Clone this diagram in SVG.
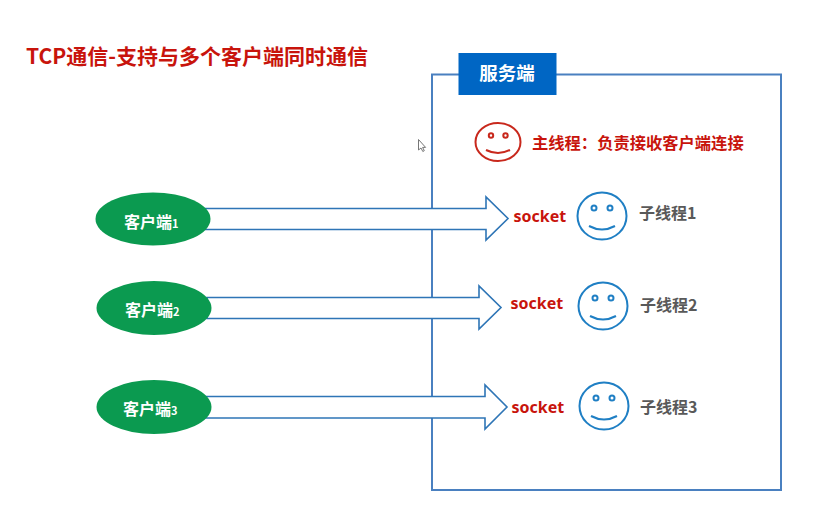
<svg xmlns="http://www.w3.org/2000/svg" width="840" height="507" viewBox="0 0 840 507">
<style>
text{font-family:"Noto Sans CJK SC","Liberation Sans",sans-serif;font-weight:700}
.client{fill:#0b9a50}
.ct{fill:#fff;font-size:16px}
.ctn{font-size:11px}
.arrow{fill:#fff;stroke:#2e75b6;stroke-width:1.6}
.sock{fill:#c8140c;font-size:16px;font-family:"Noto Sans","Liberation Sans",sans-serif}
.sub{fill:#595959;font-size:16px}
.face{fill:none;stroke-width:2}
.blue{stroke:#1f7fc4}
.red{stroke:#c8281c}
</style>
<rect width="840" height="507" fill="#fff"/>
<g id="title"><text x="26" y="64" font-size="21" fill="#c8140c">TCP通信-支持与多个客户端同时通信</text></g>
<g id="server">
<rect x="432" y="74.500" width="349" height="415.500" fill="#fff" stroke="#4a80c0" stroke-width="2"/>
<rect x="458.500" y="53" width="98" height="42" fill="#0066c4"/>
<text x="507" y="80" font-size="18.500" fill="#fff" text-anchor="middle">服务端</text>
</g>
<g id="cursor"><path d="M418.500 139.500v10.500l2.500-2 1.800 3.500 1.500-.8-1.700-3.300h3z" fill="#fff" stroke="#777" stroke-width="1"/></g>
<g id="connectors">
<path class="arrow" d="M205 208.500H486V197L508 218.500 486 240V229.500H205z"/>
<path class="arrow" d="M207 297.500H479V286L501 307.500 479 329V318.500H207z"/>
<path class="arrow" d="M201 396.500H485V385L507 407 485 429V418H201z"/>
</g>
<g id="client1"><ellipse class="client" cx="153" cy="219" rx="57.500" ry="26.500"/><text class="ct" x="124" y="228">客户端<tspan class="ctn">1</tspan></text></g>
<g id="client2"><ellipse class="client" cx="154" cy="308" rx="57.500" ry="27"/><text class="ct" x="125" y="316">客户端<tspan class="ctn">2</tspan></text></g>
<g id="client3"><ellipse class="client" cx="154" cy="407" rx="57.500" ry="27"/><text class="ct" x="123" y="415">客户端<tspan class="ctn">3</tspan></text></g>
<g id="main-thread">
<ellipse class="face red" cx="498" cy="142" rx="22.500" ry="19"/>
<circle class="face red" cx="491" cy="135.500" r="2.200" stroke-width="1.500"/>
<circle class="face red" cx="505.500" cy="135.500" r="2.200" stroke-width="1.500"/>
<path class="face red" d="M486 150Q498 156 510 150"/>
<text x="532" y="149" font-size="16.300" fill="#c8140c">主线程：负责接收客户端连接</text>
</g>
<g id="thread1">
<text class="sock" x="513.500" y="222">socket</text>
<ellipse class="face blue" cx="602" cy="216" rx="24.500" ry="23.500"/>
<circle class="face blue" cx="594" cy="208" r="2.500" stroke-width="1.500"/>
<circle class="face blue" cx="610" cy="208" r="2.500" stroke-width="1.500"/>
<path class="face blue" d="M589 226Q602 233 615 226"/>
<text class="sub" x="639" y="219">子线程1</text>
</g>
<g id="thread2">
<text class="sock" x="510.500" y="309">socket</text>
<ellipse class="face blue" cx="603" cy="306" rx="24.500" ry="23.500"/>
<circle class="face blue" cx="595" cy="298" r="2.500" stroke-width="1.500"/>
<circle class="face blue" cx="611" cy="298" r="2.500" stroke-width="1.500"/>
<path class="face blue" d="M590 316Q603 323 616 316"/>
<text class="sub" x="640" y="311">子线程2</text>
</g>
<g id="thread3">
<text class="sock" x="511.500" y="413">socket</text>
<ellipse class="face blue" cx="604" cy="406" rx="24.500" ry="23.500"/>
<circle class="face blue" cx="596" cy="398" r="2.500" stroke-width="1.500"/>
<circle class="face blue" cx="612" cy="398" r="2.500" stroke-width="1.500"/>
<path class="face blue" d="M591 416Q604 423 617 416"/>
<text class="sub" x="640" y="413">子线程3</text>
</g>
</svg>
